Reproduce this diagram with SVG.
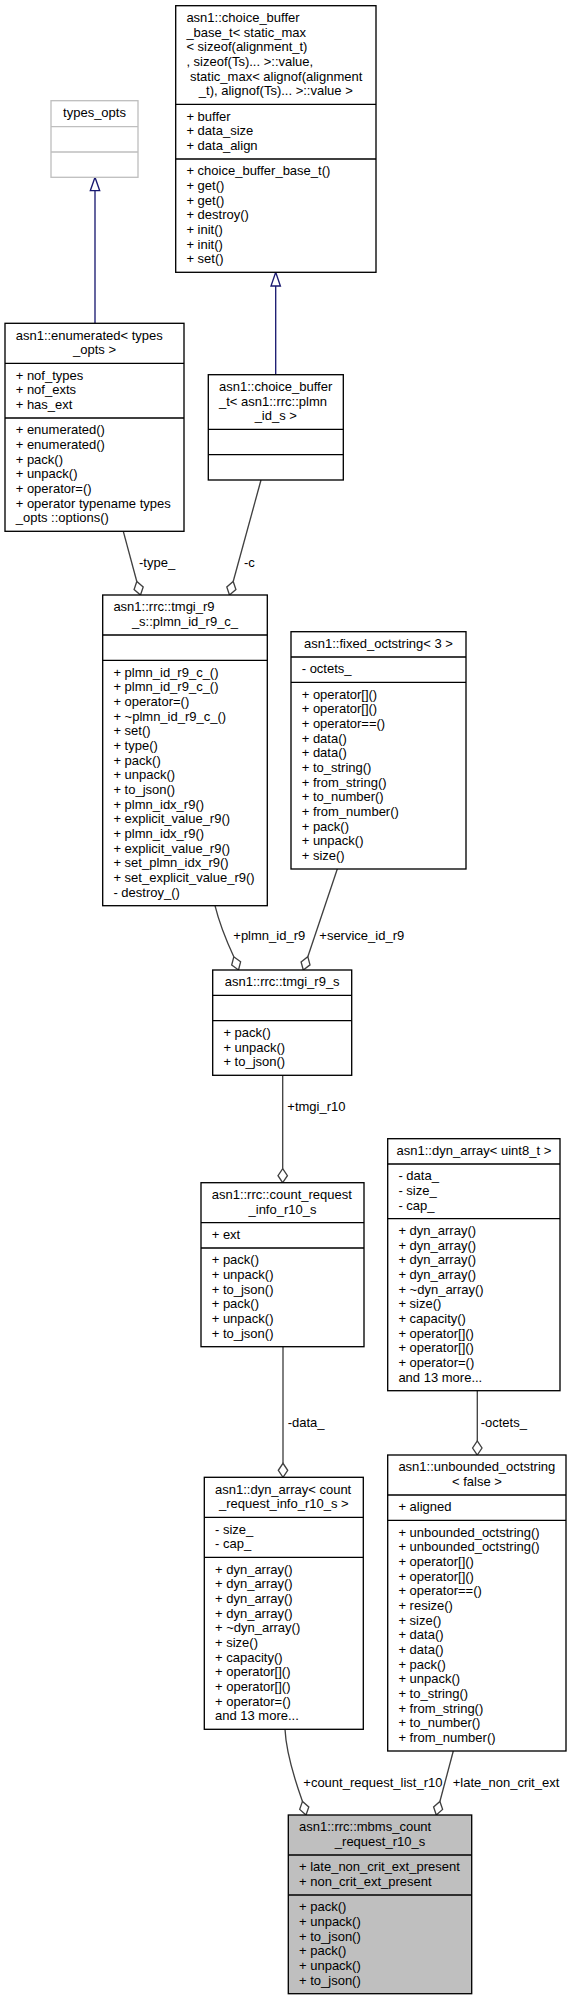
<svg xmlns="http://www.w3.org/2000/svg" width="572" height="2000" viewBox="0 0 572 2000">
<style>
text{font-family:"Liberation Sans",Arial,sans-serif;font-size:13px;fill:#000}
.c{text-anchor:middle}
.box{fill:#fff;stroke:#000;stroke-width:1.33}
.gbox{fill:#fff;stroke:#bfbfbf;stroke-width:1.33}
.main{fill:#bfbfbf;stroke:#000;stroke-width:1.33}
.sep{stroke:#000;stroke-width:1.33}
.gsep{stroke:#bfbfbf;stroke-width:1.33}
.inh{stroke:#191970;stroke-width:1.33;fill:none}
.inhh{stroke:#191970;stroke-width:1.33;fill:#fff}
.comp{stroke:#404040;stroke-width:1.33;fill:none}
.dia{stroke:#404040;stroke-width:1.33;fill:#fff}
</style>
<rect width="572" height="2000" fill="#fff"/>

<g id="connectors">
<path class="inh" d="M95,323.3V190.7"/>
<polygon class="inhh" points="95,177.3 99.7,190.7 90.3,190.7"/>
<path class="inh" d="M275.7,374.7V286"/>
<polygon class="inhh" points="275.7,272.3 280.4,286 271,286"/>

<path class="comp" d="M123.3,531.3L136.8,581.5"/>
<polygon class="dia" points="140.5,595 143.2,587 136.8,581.5 134.1,589.5"/>
<text x="139" y="567">-type_</text>

<path class="comp" d="M261,480L233.2,581.5"/>
<polygon class="dia" points="229.5,595 235.9,589.5 233.2,581.5 226.8,587"/>
<text x="244" y="567">-c</text>

<path class="comp" d="M215,905.7C219,922 226,940 233.8,956.8"/>
<polygon class="dia" points="238.5,970 240.6,961.8 233.8,956.8 231.7,965"/>
<text x="233.3" y="940">+plmn_id_r9</text>

<path class="comp" d="M337.3,869L307.8,956.7"/>
<polygon class="dia" points="303.3,970 310,964.9 307.8,956.7 301.1,961.9"/>
<text x="319.3" y="940">+service_id_r9</text>

<path class="comp" d="M282.7,1075.3V1168.7"/>
<polygon class="dia" points="282.7,1182.7 287.4,1175.7 282.7,1168.7 278,1175.7"/>
<text x="287.3" y="1110.7">+tmgi_r10</text>

<path class="comp" d="M283,1346.7V1463.3"/>
<polygon class="dia" points="283,1477.3 287.7,1470.3 283,1463.3 278.3,1470.3"/>
<text x="287.7" y="1427.3">-data_</text>

<path class="comp" d="M477.3,1390.7V1441"/>
<polygon class="dia" points="477.3,1455 482,1448 477.3,1441 472.6,1448"/>
<text x="480.7" y="1426.7">-octets_</text>

<path class="comp" d="M285,1729.3C286,1750 293,1775 302.5,1801.4"/>
<polygon class="dia" points="306,1815 308.8,1807 302.5,1801.4 299.7,1809.4"/>
<text x="303.3" y="1786.7">+count_request_list_r10</text>

<path class="comp" d="M453.3,1751L439.9,1801.5"/>
<polygon class="dia" points="436.3,1815 442.6,1809.4 439.9,1801.5 433.6,1807"/>
<text x="452.7" y="1786.7">+late_non_crit_ext</text>
</g>

<g id="types_opts">
<rect class="gbox" x="51" y="100.7" width="87" height="76.6"/>
<path class="gsep" d="M51,126.7H138M51,152H138"/>
<text class="c" x="94.5" y="117">types_opts</text>
</g>

<g id="choice_buffer_base_t">
<rect class="box" x="175.7" y="5.7" width="200.3" height="266.6"/>
<path class="sep" d="M175.7,104.3H376M175.7,159H376"/>
<text x="186.4" y="22">asn1::choice_buffer</text>
<text x="186.4" y="36.7">_base_t&lt; static_max</text>
<text x="186.4" y="51.3">&lt; sizeof(alignment_t)</text>
<text x="186.4" y="66">, sizeof(Ts)... &gt;::value,</text>
<text x="190" y="80.7">static_max&lt; alignof(alignment</text>
<text class="c" x="275.8" y="95.3">_t), alignof(Ts)... &gt;::value &gt;</text>
<text x="186.4" y="120.6">+ buffer</text>
<text x="186.4" y="135.3">+ data_size</text>
<text x="186.4" y="150">+ data_align</text>
<text x="186.4" y="175.3">+ choice_buffer_base_t()</text>
<text x="186.4" y="190">+ get()</text>
<text x="186.4" y="204.6">+ get()</text>
<text x="186.4" y="219.3">+ destroy()</text>
<text x="186.4" y="234">+ init()</text>
<text x="186.4" y="248.6">+ init()</text>
<text x="186.4" y="263.3">+ set()</text>
</g>

<g id="enumerated">
<rect class="box" x="5" y="323.3" width="179" height="208"/>
<path class="sep" d="M5,363.3H184M5,418H184"/>
<text x="15.7" y="339.6">asn1::enumerated&lt; types</text>
<text class="c" x="94.5" y="354.3">_opts &gt;</text>
<text x="15.7" y="379.6">+ nof_types</text>
<text x="15.7" y="394.3">+ nof_exts</text>
<text x="15.7" y="409">+ has_ext</text>
<text x="15.7" y="434.3">+ enumerated()</text>
<text x="15.7" y="449">+ enumerated()</text>
<text x="15.7" y="463.6">+ pack()</text>
<text x="15.7" y="478.3">+ unpack()</text>
<text x="15.7" y="493">+ operator=()</text>
<text x="15.7" y="507.6">+ operator typename types</text>
<text x="15.7" y="522.3">_opts ::options()</text>
</g>

<g id="choice_buffer_t">
<rect class="box" x="208.3" y="374.7" width="135" height="105.3"/>
<path class="sep" d="M208.3,429.3H343.3M208.3,454.7H343.3"/>
<text x="219" y="391">asn1::choice_buffer</text>
<text x="219" y="405.7">_t&lt; asn1::rrc::plmn</text>
<text class="c" x="275.8" y="420.3">_id_s &gt;</text>
</g>

<g id="plmn_id_r9_c">
<rect class="box" x="102.7" y="595" width="164.6" height="310.7"/>
<path class="sep" d="M102.7,635H267.3M102.7,660.3H267.3"/>
<text x="113.4" y="611.3">asn1::rrc::tmgi_r9</text>
<text class="c" x="185" y="626">_s::plmn_id_r9_c_</text>
<text x="113.4" y="676.6">+ plmn_id_r9_c_()</text>
<text x="113.4" y="691.3">+ plmn_id_r9_c_()</text>
<text x="113.4" y="706">+ operator=()</text>
<text x="113.4" y="720.6">+ ~plmn_id_r9_c_()</text>
<text x="113.4" y="735.3">+ set()</text>
<text x="113.4" y="750">+ type()</text>
<text x="113.4" y="764.6">+ pack()</text>
<text x="113.4" y="779.3">+ unpack()</text>
<text x="113.4" y="794">+ to_json()</text>
<text x="113.4" y="808.6">+ plmn_idx_r9()</text>
<text x="113.4" y="823.3">+ explicit_value_r9()</text>
<text x="113.4" y="838">+ plmn_idx_r9()</text>
<text x="113.4" y="852.6">+ explicit_value_r9()</text>
<text x="113.4" y="867.3">+ set_plmn_idx_r9()</text>
<text x="113.4" y="882">+ set_explicit_value_r9()</text>
<text x="113.4" y="896.6">- destroy_()</text>
</g>

<g id="fixed_octstring">
<rect class="box" x="291" y="631.7" width="175" height="237.3"/>
<path class="sep" d="M291,657H466M291,682.3H466"/>
<text class="c" x="378.5" y="648">asn1::fixed_octstring&lt; 3 &gt;</text>
<text x="301.7" y="673.3">- octets_</text>
<text x="301.7" y="698.6">+ operator[]()</text>
<text x="301.7" y="713.3">+ operator[]()</text>
<text x="301.7" y="728">+ operator==()</text>
<text x="301.7" y="742.6">+ data()</text>
<text x="301.7" y="757.3">+ data()</text>
<text x="301.7" y="772">+ to_string()</text>
<text x="301.7" y="786.6">+ from_string()</text>
<text x="301.7" y="801.3">+ to_number()</text>
<text x="301.7" y="816">+ from_number()</text>
<text x="301.7" y="830.6">+ pack()</text>
<text x="301.7" y="845.3">+ unpack()</text>
<text x="301.7" y="860">+ size()</text>
</g>

<g id="tmgi_r9_s">
<rect class="box" x="212.7" y="970" width="139" height="105.3"/>
<path class="sep" d="M212.7,995.3H351.7M212.7,1020.7H351.7"/>
<text class="c" x="282.2" y="986.3">asn1::rrc::tmgi_r9_s</text>
<text x="223.4" y="1037">+ pack()</text>
<text x="223.4" y="1051.7">+ unpack()</text>
<text x="223.4" y="1066.3">+ to_json()</text>
</g>

<g id="count_request_info_r10_s">
<rect class="box" x="201" y="1182.7" width="163" height="164"/>
<path class="sep" d="M201,1222.7H364M201,1248H364"/>
<text x="211.7" y="1199">asn1::rrc::count_request</text>
<text class="c" x="282.5" y="1213.7">_info_r10_s</text>
<text x="211.7" y="1239">+ ext</text>
<text x="211.7" y="1264.3">+ pack()</text>
<text x="211.7" y="1279">+ unpack()</text>
<text x="211.7" y="1293.6">+ to_json()</text>
<text x="211.7" y="1308.3">+ pack()</text>
<text x="211.7" y="1323">+ unpack()</text>
<text x="211.7" y="1337.6">+ to_json()</text>
</g>

<g id="dyn_array_uint8">
<rect class="box" x="387.7" y="1138.7" width="172.3" height="252"/>
<path class="sep" d="M387.7,1164H560M387.7,1218.7H560"/>
<text class="c" x="473.9" y="1155">asn1::dyn_array&lt; uint8_t &gt;</text>
<text x="398.4" y="1180.3">- data_</text>
<text x="398.4" y="1195">- size_</text>
<text x="398.4" y="1209.6">- cap_</text>
<text x="398.4" y="1235">+ dyn_array()</text>
<text x="398.4" y="1249.7">+ dyn_array()</text>
<text x="398.4" y="1264.3">+ dyn_array()</text>
<text x="398.4" y="1279">+ dyn_array()</text>
<text x="398.4" y="1293.7">+ ~dyn_array()</text>
<text x="398.4" y="1308.3">+ size()</text>
<text x="398.4" y="1323">+ capacity()</text>
<text x="398.4" y="1337.7">+ operator[]()</text>
<text x="398.4" y="1352.3">+ operator[]()</text>
<text x="398.4" y="1367">+ operator=()</text>
<text x="398.4" y="1381.7">and 13 more...</text>
</g>

<g id="dyn_array_count">
<rect class="box" x="204.3" y="1477.3" width="159" height="252"/>
<path class="sep" d="M204.3,1517.3H363.3M204.3,1557.3H363.3"/>
<text x="215" y="1493.6">asn1::dyn_array&lt; count</text>
<text class="c" x="283.8" y="1508.3">_request_info_r10_s &gt;</text>
<text x="215" y="1533.6">- size_</text>
<text x="215" y="1548.3">- cap_</text>
<text x="215" y="1573.6">+ dyn_array()</text>
<text x="215" y="1588.3">+ dyn_array()</text>
<text x="215" y="1603">+ dyn_array()</text>
<text x="215" y="1617.6">+ dyn_array()</text>
<text x="215" y="1632.3">+ ~dyn_array()</text>
<text x="215" y="1647">+ size()</text>
<text x="215" y="1661.6">+ capacity()</text>
<text x="215" y="1676.3">+ operator[]()</text>
<text x="215" y="1691">+ operator[]()</text>
<text x="215" y="1705.6">+ operator=()</text>
<text x="215" y="1720.3">and 13 more...</text>
</g>

<g id="unbounded_octstring">
<rect class="box" x="387.7" y="1455" width="178.3" height="296"/>
<path class="sep" d="M387.7,1495H566M387.7,1520.3H566"/>
<text x="398.4" y="1471.3">asn1::unbounded_octstring</text>
<text class="c" x="476.9" y="1486">&lt; false &gt;</text>
<text x="398.4" y="1511.3">+ aligned</text>
<text x="398.4" y="1536.6">+ unbounded_octstring()</text>
<text x="398.4" y="1551.3">+ unbounded_octstring()</text>
<text x="398.4" y="1566">+ operator[]()</text>
<text x="398.4" y="1580.6">+ operator[]()</text>
<text x="398.4" y="1595.3">+ operator==()</text>
<text x="398.4" y="1610">+ resize()</text>
<text x="398.4" y="1624.6">+ size()</text>
<text x="398.4" y="1639.3">+ data()</text>
<text x="398.4" y="1654">+ data()</text>
<text x="398.4" y="1668.6">+ pack()</text>
<text x="398.4" y="1683.3">+ unpack()</text>
<text x="398.4" y="1698">+ to_string()</text>
<text x="398.4" y="1712.6">+ from_string()</text>
<text x="398.4" y="1727.3">+ to_number()</text>
<text x="398.4" y="1742">+ from_number()</text>
</g>

<g id="mbms_count_request_r10_s">
<rect class="main" x="288.3" y="1815" width="183.4" height="178.7"/>
<path class="sep" d="M288.3,1855H471.7M288.3,1895H471.7"/>
<text x="299" y="1831.3">asn1::rrc::mbms_count</text>
<text class="c" x="380" y="1846">_request_r10_s</text>
<text x="299" y="1871.3">+ late_non_crit_ext_present</text>
<text x="299" y="1886">+ non_crit_ext_present</text>
<text x="299" y="1911.3">+ pack()</text>
<text x="299" y="1926">+ unpack()</text>
<text x="299" y="1940.6">+ to_json()</text>
<text x="299" y="1955.3">+ pack()</text>
<text x="299" y="1970">+ unpack()</text>
<text x="299" y="1984.6">+ to_json()</text>
</g>
</svg>
